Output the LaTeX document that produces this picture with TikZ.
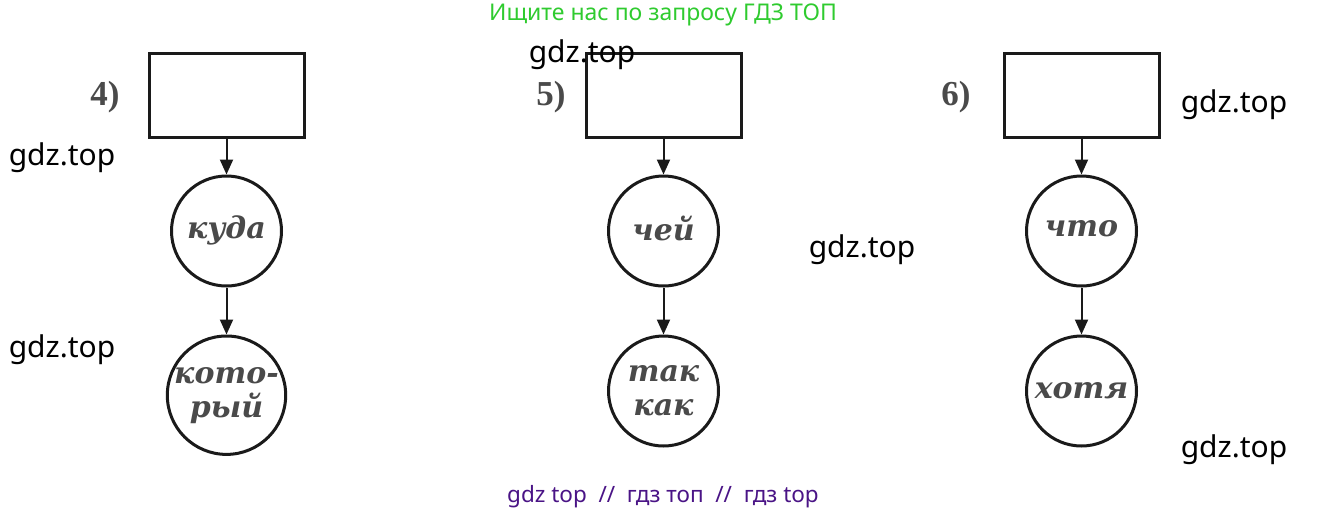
\documentclass[tikz,border=0pt]{standalone}
\usepackage{fontspec}
\setmainfont{Liberation Serif}
\newfontfamily\marksans{Noto Sans}
\newfontfamily\wordserif{DejaVu Serif}
\usetikzlibrary{arrows.meta,positioning}
\definecolor{Ink}{HTML}{1A1A1A}
\definecolor{WordGray}{HTML}{4A4A4A}
\definecolor{MarkGreen}{HTML}{2FCB2F}
\definecolor{MarkPurple}{HTML}{4A1486}
\tikzset{
  askbox/.style={draw=Ink, line width=3pt, minimum width=155pt, minimum height=84pt, inner sep=0pt},
  wordring/.style={circle, draw=Ink, line width=3pt, minimum size=110pt, inner sep=0pt,
    align=center, font=\wordserif\fontsize{30}{34}\selectfont\bfseries\itshape, text=WordGray},
  numlabel/.style={font=\fontsize{35}{38}\selectfont\bfseries, text=WordGray},
  linkarrow/.style={draw=Ink, line width=2pt, -{Triangle[length=15pt,width=13pt]}},
  wmark/.style={font=\marksans\fontsize{30}{34}\selectfont, text=black}
}
\begin{document}
\begin{tikzpicture}[x=1pt,y=-1pt]
  \useasboundingbox[fill=white] (0,0) rectangle (1328,515);

  % panel 4
  \node[askbox] (boxfour) at (226.5,95) {};
  \node[numlabel] (numfour) at (105,97) {4)};
  \node[wordring, below=36pt of boxfour] (kuda) {\raisebox{7pt}{куда}};
  \node[wordring, below=47pt of kuda] (kotory) {кото-\\рый};
  \draw[linkarrow] (boxfour.south) -- (kuda.north);
  \draw[linkarrow] (kuda.south) -- (kotory.north);

  % panel 5
  \node[askbox] (boxfive) at (663.5,95) {};
  \node[numlabel] (numfive) at (551,97) {5)};
  \node[wordring, below=36pt of boxfive] (chey) {\raisebox{5pt}{чей}};
  \node[wordring, below=47pt of chey] (takkak) {так\\как};
  \draw[linkarrow] (boxfive.south) -- (chey.north);
  \draw[linkarrow] (chey.south) -- (takkak.north);

  % panel 6
  \node[askbox] (boxsix) at (1081.5,95) {};
  \node[numlabel] (numsix) at (956,97) {6)};
  \node[wordring, below=36pt of boxsix] (chto) {\raisebox{6pt}{что}};
  \node[wordring, below=47pt of chto] (khotya) {хотя};
  \draw[linkarrow] (boxsix.south) -- (chto.north);
  \draw[linkarrow] (chto.south) -- (khotya.north);

  % watermarks
  \node[font=\marksans\fontsize{23}{26}\selectfont, text=MarkGreen] (topline) at (663,15) {Ищите нас по запросу ГДЗ ТОП};
  \node[font=\marksans\fontsize{22.5}{26}\selectfont, text=MarkPurple] (bottomline) at (663,497) {gdz top\ \ //\ \ гдз топ\ \ //\ \ гдз top};
  \node[wmark] (wmone) at (62,158) {gdz.top};
  \node[wmark] (wmtwo) at (62,350) {gdz.top};
  \node[wmark] (wmthree) at (582,55) {gdz.top};
  \node[wmark] (wmfour) at (862,250) {gdz.top};
  \node[wmark] (wmfive) at (1234,105) {gdz.top};
  \node[wmark] (wmsix) at (1234,450) {gdz.top};
\end{tikzpicture}
\end{document}
